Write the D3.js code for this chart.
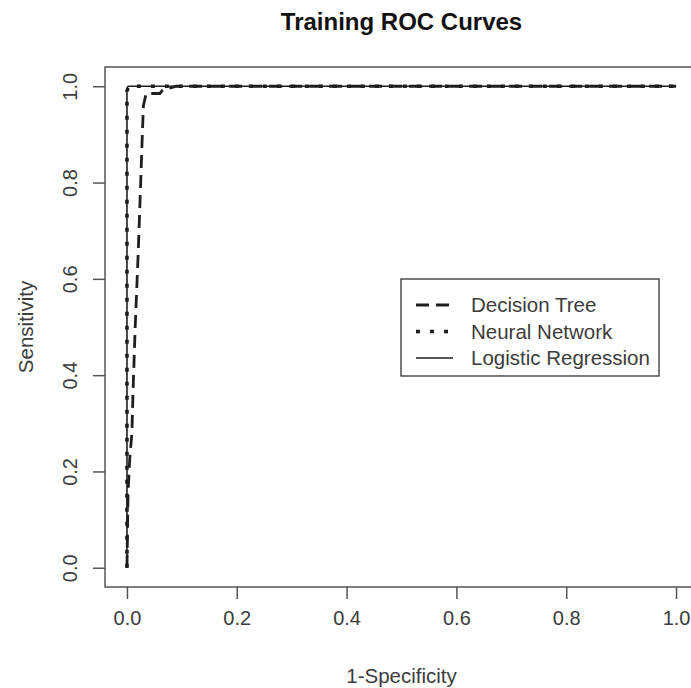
<!DOCTYPE html>
<html>
<head>
<meta charset="utf-8">
<script src="https://cdn.jsdelivr.net/npm/d3@7"></script>
<style>
  html, body { margin: 0; padding: 0; background: #fff; overflow: hidden; }
  svg { display: block; font-family: "Liberation Sans", Arial, sans-serif; }
</style>
</head>
<body>
<svg id="chart" width="691" height="688"></svg>
<script>
// ROC points (1-specificity, sensitivity)
const treeFpr = [0, 0.002, 0.005, 0.009, 0.011, 0.015, 0.02, 0.025, 0.028, 0.03, 0.035, 0.06, 0.065, 0.09, 0.2, 0.4, 0.6, 0.8, 1.0];
const treeTpr = [0, 0.156, 0.225, 0.28, 0.364, 0.5, 0.64, 0.8, 0.9, 0.96, 0.985, 0.985, 0.992, 1.0, 1.0, 1.0, 1.0, 1.0, 1.0];
const netFpr = [0, 0, 0.003, 1.0];
const netTpr = [0, 0.99, 1.0, 1.0];
const logitFpr = [0, 0, 0.002, 1.0];
const logitTpr = [0, 0.995, 1.0, 1.0];

const tickValues = [0, 0.2, 0.4, 0.6, 0.8, 1.0];
const legendLabels = ['Decision Tree', 'Neural Network', 'Logistic Regression'];

const width = 691, height = 688;
const margin = { top: 67, right: -7, bottom: 101, left: 105 };

const svg = d3.select('#chart');
const ink = '#1e1e1e';
const textInk = '#3c3c3c';

// R pads the data range by 4% on each side
const x = d3.scaleLinear().domain([-0.04, 1.04]).range([margin.left, width - margin.right]);
const y = d3.scaleLinear().domain([-0.04, 1.04]).range([height - margin.bottom, margin.top]);

// plot frame
svg.append('rect')
    .attr('x', x(-0.04)).attr('y', y(1.04))
    .attr('width', x(1.04) - x(-0.04)).attr('height', y(-0.04) - y(1.04))
    .attr('fill', 'none').attr('stroke', '#555').attr('stroke-width', 1.5);

// x axis
const xAxis = svg.append('g')
    .attr('transform', `translate(0,${y(-0.04)})`)
    .call(d3.axisBottom(x).tickValues(tickValues).tickFormat(d3.format('.1f')).tickSize(12).tickPadding(12).tickSizeOuter(0));
xAxis.select('.domain').remove();
xAxis.selectAll('line').attr('stroke', '#555').attr('stroke-width', 1.5);
xAxis.selectAll('text').attr('font-size', '20px').attr('fill', textInk)
    .attr('font-family', '"Liberation Sans", Arial, sans-serif');

// y axis, labels turned like R does
const yAxis = svg.append('g')
    .attr('transform', `translate(${x(-0.04)},0)`)
    .call(d3.axisLeft(y).tickValues(tickValues).tickFormat(d3.format('.1f')).tickSize(12).tickSizeOuter(0));
yAxis.select('.domain').remove();
yAxis.selectAll('line').attr('stroke', '#555').attr('stroke-width', 1.5);
yAxis.selectAll('text')
    .attr('x', 0).attr('dy', 0)
    .attr('text-anchor', 'middle')
    .attr('transform', `translate(${77 - x(-0.04)},0) rotate(-90)`)
    .attr('font-size', '20px').attr('fill', textInk)
    .attr('font-family', '"Liberation Sans", Arial, sans-serif');

// titles
svg.append('text')
    .attr('x', (x(-0.04) + x(1.04)) / 2).attr('y', 30)
    .attr('text-anchor', 'middle')
    .attr('font-size', '24px').attr('font-weight', 'bold').attr('fill', '#111')
    .text('Training ROC Curves');

svg.append('text')
    .attr('x', (x(-0.04) + x(1.04)) / 2).attr('y', 683)
    .attr('text-anchor', 'middle')
    .attr('font-size', '20.5px').attr('fill', textInk)
    .text('1-Specificity');

svg.append('text')
    .attr('transform', `translate(33,${(y(-0.04) + y(1.04)) / 2}) rotate(-90)`)
    .attr('text-anchor', 'middle')
    .attr('font-size', '20.5px').attr('fill', textInk)
    .text('Sensitivity');

// curves
const styles = [
    { dash: '13,7', width: 2.8 },
    { dash: '4,10', width: 3.6 },
    { dash: null, width: 1.6 }
];
const series = [
    treeFpr.map((v, i) => [v, treeTpr[i]]),
    netFpr.map((v, i) => [v, netTpr[i]]),
    logitFpr.map((v, i) => [v, logitTpr[i]])
];

const line = d3.line().x(d => x(d[0])).y(d => y(d[1]));

series.forEach((pts, i) => {
    svg.append('path')
        .attr('d', line(pts))
        .attr('fill', 'none')
        .attr('stroke', ink)
        .attr('stroke-width', styles[i].width)
        .attr('stroke-dasharray', styles[i].dash);
});

// legend
const lg = svg.append('g');
lg.append('rect')
    .attr('x', 401).attr('y', 279).attr('width', 258).attr('height', 97)
    .attr('fill', '#fff').attr('stroke', '#333').attr('stroke-width', 1.3);

legendLabels.forEach((label, i) => {
    const cy = 305 + i * 26.5;
    lg.append('line')
        .attr('x1', 416).attr('x2', 453).attr('y1', cy).attr('y2', cy)
        .attr('stroke', ink)
        .attr('stroke-width', styles[i].width)
        .attr('stroke-dasharray', styles[i].dash);
    lg.append('text')
        .attr('x', 471).attr('y', cy + 7)
        .attr('font-size', '20.5px').attr('fill', textInk)
        .text(label);
});
</script>
</body>
</html>
